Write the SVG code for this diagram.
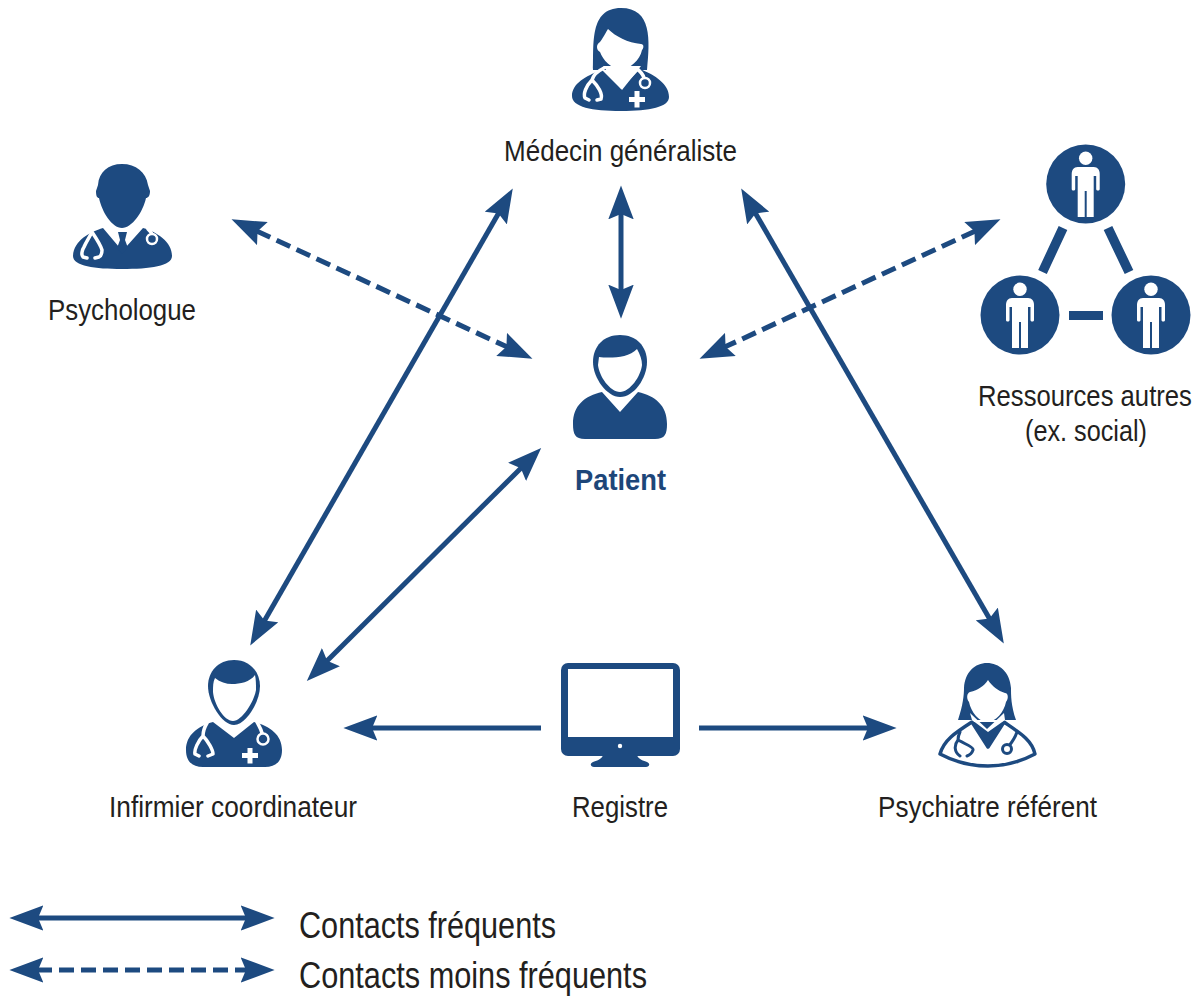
<svg xmlns="http://www.w3.org/2000/svg" width="1197" height="996" viewBox="0 0 1197 996">
<style>
text{font-family:"Liberation Sans Narrow","Liberation Sans",Arial,sans-serif;fill:#231f20;font-size:29px}
.lg{font-size:36px}
.b{font-weight:700;fill:#1d4679}
.d{fill:#1d4a80}
.w{fill:#fff}
.st{fill:none;stroke:#fff;stroke-width:3.500;stroke-linecap:round;stroke-linejoin:round}
.sd{fill:none;stroke:#1d4a80;stroke-width:3;stroke-linecap:round;stroke-linejoin:round}
.c{fill:none;stroke:#1d4a80;stroke-width:5}
.da{stroke-dasharray:15 7;stroke-width:5}
.bar{stroke:#1d4a80;stroke-width:9.500}
</style>
<defs>
<marker id="ah" markerUnits="userSpaceOnUse" markerWidth="34" markerHeight="26" refX="6" refY="12" orient="auto-start-reverse" viewBox="0 0 32 24"><path d="M0 0L32 12L0 24L5 12Z" fill="#1d4a80"/></marker>
<symbol id="person" overflow="visible"><circle cx="0" cy="-25.700" r="6.700" fill="#fff"/><path fill="#fff" d="M-8-17H8C12-17 14-14 14-10V5C14 7 10.500 7 10.500 5V-8H8V33H1V7H-1V33H-8V-8H-10.500V5C-10.500 7-14 7-14 5V-10C-14-14-12-17-8-17Z"/></symbol>
</defs>
<g id="connectors">
<path class="c da" d="M256.600 230.900L507.400 347.100" marker-start="url(#ah)" marker-end="url(#ah)"/>
<path class="c" d="M499 212.500L264 621.500" marker-start="url(#ah)" marker-end="url(#ah)"/>
<path class="c" d="M621 213V291" marker-start="url(#ah)" marker-end="url(#ah)"/>
<path class="c" d="M755 212.500L990 619.500" marker-start="url(#ah)" marker-end="url(#ah)"/>
<path class="c da" d="M975.400 230.900L724.600 347.100" marker-start="url(#ah)" marker-end="url(#ah)"/>
<path class="c" d="M521.600 467.400L326.400 661.600" marker-start="url(#ah)" marker-end="url(#ah)"/>
<path class="c" d="M541 728H371" marker-end="url(#ah)"/>
<path class="c" d="M699 728H869" marker-end="url(#ah)"/>
</g>
<g id="medecin">
<path class="d" d="M593 70C594 45 589 8 621 8C652 8 650 40 647 70Z"/>
<path class="d" d="M572 96C572 84 585 76 602 70L621 89L640 69C655 75 669 84 669 97C669 107 650 111 621 111C592 111 572 107 572 96Z"/>
<path class="w" d="M603 66L622 90L641 66Z"/>
<path class="w" d="M600 42C603 38 606 32 608 29C615 36 628 43 641 44C644 44 644 48 642 50C640 60 630 69 621 69C611 69 603 60 600 52C596 50 596 44 600 42Z"/>
<path class="st" d="M604 68C596 72 593 76 592 80C586 86 583 94 585 98L589 100M592 80C598 86 603 94 601 99L597 100M636 68C640 71 643 74 644 78"/>
<circle cx="645" cy="83" r="5" fill="#1d4a80" stroke="#fff" stroke-width="2.500"/>
<path class="w" d="M634.500 91H639.500V97H645V102H639.500V107.500H634.500V102H629V97H634.500Z"/>
<text x="504" y="161" textLength="233" lengthAdjust="spacingAndGlyphs">Médecin généraliste</text>
</g>
<g id="psychologue">
<path class="d" d="M122 164C108 164 99 172 98 185L96 191C96 196 97 198 99 198C102 212 112 228 122 228C132 228 143 212 146 198C148 198 150 196 150 191L148 185C146 172 136 164 122 164Z"/>
<path class="d" d="M73 256C74 240 90 232 103 228L119 247H126L143 228C157 232 172 242 172 256C172 266 150 269 122 269C95 269 73 266 73 256Z"/>
<path class="d" d="M118 232H127L125 240L128 248L122 254L117 248L120 240Z"/>
<path class="st" d="M92 232C89 238 86 242 84 247C82 250 81 255 83 257L87 258M92 232C96 238 101 246 102 250C102 254 101 256 99 257L95 258M148 229C150 231 151 232 152 234"/>
<circle cx="152" cy="239" r="5" fill="#1d4a80" stroke="#fff" stroke-width="2.500"/>
<text x="48" y="320" textLength="148" lengthAdjust="spacingAndGlyphs">Psychologue</text>
</g>
<g id="ressources">
<circle class="d" cx="1085.700" cy="184" r="39.500"/>
<circle class="d" cx="1020" cy="315" r="39.500"/>
<circle class="d" cx="1151" cy="315" r="39.500"/>
<use href="#person" x="1085.700" y="184"/>
<use href="#person" x="1020" y="315"/>
<use href="#person" x="1151" y="315"/>
<path class="bar" d="M1063 228L1042.500 272M1108 228L1129 272"/>
<path class="d" d="M1069 311H1103V320H1069Z"/>
<text transform="translate(978 406) scale(.885 1)">Ressources autres</text>
<text x="1025" y="441" textLength="122" lengthAdjust="spacingAndGlyphs">(ex. social)</text>
</g>
<g id="patient">
<path class="d" d="M620 335C604 335 593 346 593 362C593 378 607 397 620 397C634 397 647 378 647 362C647 346 636 335 620 335Z"/>
<path class="d" d="M573 424C573 405 585 396 602 392L620 412L638 392C655 396 667 405 667 424C667 434 665 439 655 439H585C575 439 573 434 573 424Z"/>
<path class="w" d="M599 357C607 358 628 359 637 349C640 354 642 360 642 365C641 376 630 392 620 392C610 392 599 376 598 365Z"/>
<text class="b" x="575" y="490" textLength="91" lengthAdjust="spacingAndGlyphs">Patient</text>
</g>
<g id="infirmier">
<path class="d" d="M234 660C218 660 208 672 208 686C208 702 222 725 234 725C246 725 260 702 260 686C260 672 250 660 234 660Z"/>
<path class="d" d="M186 750C186 735 198 726 213 722L234 738L254 722C270 726 282 735 282 750C282 762 275 767 265 767H203C193 767 186 762 186 750Z"/>
<path class="w" d="M215 678C220 682 226 684 232 684C240 684 250 682 255 675C256 680 256 684 256 690C254 702 242 721 233 721C224 721 214 704 213 692C213 686 213 682 215 678Z"/>
<path class="st" d="M207 723C204 728 203 732 203 736C198 741 194 750 195 754L199 756M203 736C208 741 213 750 213 754L208 756M257 722C259 726 261 729 262 733"/>
<circle cx="263" cy="739" r="5.500" fill="#1d4a80" stroke="#fff" stroke-width="2.500"/>
<path class="w" d="M247.500 748H252.500V753H258V758H252.500V763.500H247.500V758H242V753H247.500Z"/>
<text x="109" y="817" textLength="248" lengthAdjust="spacingAndGlyphs">Infirmier coordinateur</text>
</g>
<g id="registre">
<rect class="d" x="561" y="663" width="119" height="93" rx="7"/>
<rect class="w" x="568" y="669" width="105" height="68"/>
<circle class="w" cx="620" cy="746" r="2.200"/>
<path class="d" d="M603 755H637C638 759 644 761 647 762C651 764 649 767 646 767H594C591 767 589 764 593 762C596 761 602 759 603 755Z"/>
<text x="572" y="817" textLength="96" lengthAdjust="spacingAndGlyphs">Registre</text>
</g>
<g id="psychiatre">
<path class="d" d="M958 720C963 705 964 695 964 688C965 672 975 663 987 663C999 663 1010 672 1011 688C1011 695 1011 706 1016 720Z"/>
<path d="M940 754C944 740 955 733 972 722L988 747L1004 722C1020 733 1032 740 1035 754C1020 762 1005 766 988 766C970 766 955 762 940 754Z" fill="#fff" stroke="#1d4a80" stroke-width="3.500" stroke-linejoin="round"/>
<path class="d" d="M972 722L988 747L1005 722Z"/>
<path class="w" d="M970 692C978 690 984 686 988 680C992 686 998 691 1005 693C1008 693 1009 698 1006 702C1004 712 996 722 987 722C979 722 971 712 969 702C966 698 967 693 970 692Z"/>
<path class="w" d="M970 713L987 729L1004 713L1005 720L988 732L972 720Z"/>
<path class="sd" d="M960 732C958 736 958 738 958 740C954 745 954 752 960 756M958 740C966 744 974 748 973 750C972 753 970 755 967 756M1017 732C1015 738 1012 742 1009 746"/>
<circle cx="1007" cy="749" r="4.500" fill="#fff" stroke="#1d4a80" stroke-width="3"/>
<text x="878" y="817" textLength="219" lengthAdjust="spacingAndGlyphs">Psychiatre référent</text>
</g>
<g id="legende">
<path class="c" d="M37 918H247" marker-start="url(#ah)" marker-end="url(#ah)"/>
<path class="c da" d="M37 970H247" marker-start="url(#ah)" marker-end="url(#ah)"/>
<text class="lg" x="299" y="938" textLength="257" lengthAdjust="spacingAndGlyphs">Contacts fréquents</text>
<text class="lg" x="299" y="988" textLength="348" lengthAdjust="spacingAndGlyphs">Contacts moins fréquents</text>
</g>
</svg>
